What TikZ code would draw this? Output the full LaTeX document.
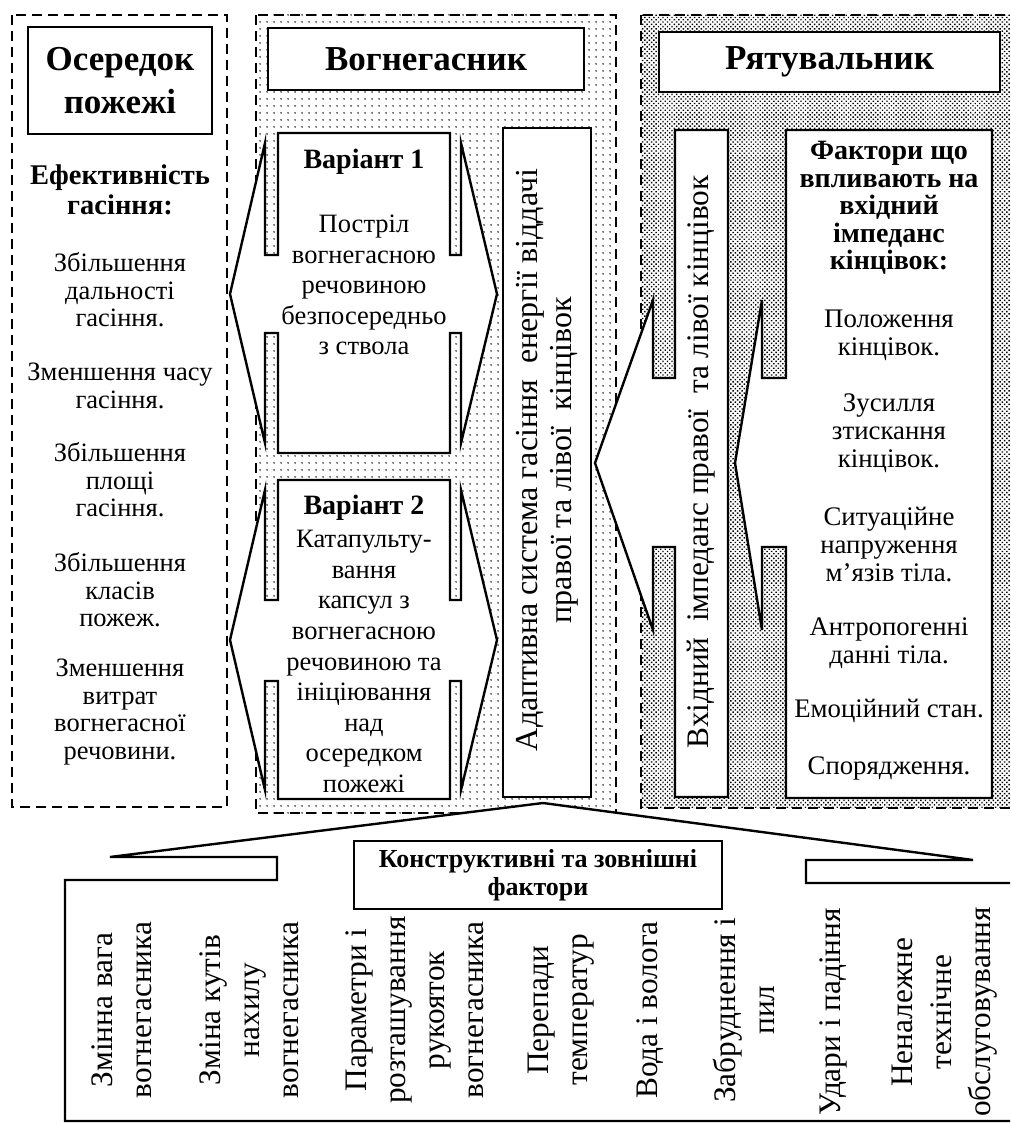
\documentclass[tikz,border=0pt]{standalone}
\usepackage{fontspec}
\setmainfont{Liberation Serif}
\usetikzlibrary{patterns.meta}
\begin{document}
\begin{tikzpicture}[x=1pt,y=-1pt,
  panel/.style={line width=2.6pt, dash pattern=on 10pt off 6pt},
  box/.style={draw, line width=2.8pt, fill=white},
  barrow/.style={draw, line width=2.4pt, fill=white, line join=miter},
  head/.style={font=\fontsize{35}{43}\selectfont\bfseries, align=center, inner sep=0pt},
  sub/.style={font=\fontsize{28.5}{29.5}\selectfont\bfseries, align=center, inner sep=0pt},
  body/.style={font=\fontsize{26.5}{27.5}\selectfont, align=center, inner sep=0pt},
  rbody/.style={font=\fontsize{26.8}{28}\selectfont, align=center, inner sep=0pt},
  vbody/.style={font=\fontsize{26.5}{30.6}\selectfont, align=center, inner sep=0pt},
  side/.style={font=\fontsize{32}{34}\selectfont, align=center, inner sep=0pt, rotate=90},
  foot/.style={font=\fontsize{31.3}{39}\selectfont, align=center, inner sep=0pt, rotate=90},
]
\useasboundingbox (0,0) rectangle (1010,1124);
\fill[white] (0,0) rectangle (1010,1124);
\clip (0,0) rectangle (1010,1124);

% ---- three dashed panels ----
\draw[panel] (12,15) rectangle (227,807);
\path[pattern={Dots[distance=6.5pt,radius=0.85pt]}, pattern color=black] (256,15) rectangle (616,813);
\draw[panel] (256,15) rectangle (616,813);
\path[pattern={Dots[distance=3.2pt,radius=1pt,angle=45]}, pattern color=black] (641,15) rectangle (1030,808);
\draw[panel] (641,15) rectangle (1030,808);

% ---- left panel ----
\node[box, head, minimum width=184pt, minimum height=107pt] (fire) at (120,80.5) {Осередок\\пожежі};
\node[sub] (eff) at (120,190) {Ефективність\\гасіння:};
\node[body] (e1) at (120,290) {Збільшення\\дальності\\гасіння.};
\node[body] (e2) at (120,386) {Зменшення часу\\гасіння.};
\node[body] (e3) at (120,480) {Збільшення\\площі\\гасіння.};
\node[body] (e4) at (120,590) {Збільшення\\класів\\пожеж.};
\node[body] (e5) at (120,712) {Зменшення\\витрат\\вогнегасної\\речовини.};

% ---- middle panel: variants with two-way block arrows ----
\draw[barrow] (278,133) -- (450,133) -- (450,255) -- (461,255) -- (461,143) -- (497,294)
  -- (461,443) -- (461,333) -- (450,333) -- (450,453) -- (278,453) -- (278,333)
  -- (265,333) -- (265,443) -- (230,294) -- (265,143) -- (265,255) -- (278,255) -- cycle;
\draw[barrow] (278,480) -- (450,480) -- (450,600) -- (461,600) -- (461,490) -- (497,640)
  -- (461,790) -- (461,681) -- (450,681) -- (450,799) -- (278,799) -- (278,681)
  -- (265,681) -- (265,790) -- (230,640) -- (265,490) -- (265,600) -- (278,600) -- cycle;

\node[box, head, minimum width=316pt, minimum height=62pt] (ext) at (426,59) {Вогнегасник};
\draw[box] (503,128) rectangle (591,797);
\node[side] (adapt) at (547,460) {Адаптивна система гасіння\ \ енергії віддачі\\правої та лівої\ \ кінцівок};

\node[sub, font=\fontsize{28}{30}\selectfont\bfseries] (v1) at (364,162) {Варіант 1};
\node[vbody] (v1t) at (364,285) {Постріл\\вогнегасною\\речовиною\\безпосередньо\\з ствола};
\node[sub, font=\fontsize{28}{30}\selectfont\bfseries] (v2) at (364,508) {Варіант 2};
\node[vbody] (v2t) at (364,661.5) {Катапульту-\\вання\\капсул з\\вогнегасною\\речовиною та\\ініціювання\\над\\осередком\\пожежі};

% ---- right panel: boxes with left block arrows ----
\draw[barrow] (675,130) -- (728,130) -- (728,797) -- (675,797) -- (675,547) -- (653,547)
  -- (653,630) -- (595,463) -- (653,300) -- (653,378) -- (675,378) -- cycle;
\draw[barrow] (786,130) -- (992,130) -- (992,798) -- (786,798) -- (786,547) -- (762,547)
  -- (762,630) -- (735,463) -- (762,300) -- (762,378) -- (786,378) -- cycle;

\node[box, head, minimum width=341pt, minimum height=60pt] (resc) at (829.5,62) {Рятувальник};
\node[side, font=\fontsize{31.3}{34}\selectfont] (imp) at (701,462) {Вхідний\ \ імпеданс правої\ \ та лівої кінцівок};
\node[sub, font=\fontsize{28}{27.5}\selectfont\bfseries] (fac) at (889,208) {Фактори що\\впливають на\\вхідний\\імпеданс\\кінцівок:};
\node[rbody] (f1) at (889,335) {Положення\\кінцівок.};
\node[rbody] (f2) at (889,433) {Зусилля\\зтискання\\кінцівок.};
\node[rbody] (f3) at (889,545) {Ситуаційне\\напруження\\м’язів тіла.};
\node[rbody] (f4) at (889,643) {Антропогенні\\данні тіла.};
\node[rbody] (f5) at (889,711) {Емоційний стан.};
\node[rbody] (f6) at (889,768) {Спорядження.};

% ---- bottom callout ----
\draw[barrow] (65,1121) -- (65,880) -- (277,880) -- (277,857) -- (110,857) -- (543,803)
  -- (973,860) -- (806,860) -- (806,883) -- (1030,883) -- (1030,1121) -- cycle;
\node[box, font=\fontsize{26}{28}\selectfont\bfseries, align=center, inner sep=0pt,
  minimum width=368pt, minimum height=68pt] (cons) at (538,875) {Конструктивні та зовнішні\\фактори};

\node[foot] (b1) at (122,1010) {Змінна вага\\вогнегасника};
\node[foot] (b2) at (249,1010) {Зміна кутів\\нахилу\\вогнегасника};
\node[foot] (b3) at (414.5,1010) {Параметри і\\розташування\\рукояток\\вогнегасника};
\node[foot] (b4) at (561,1010) {Перепади\\температур};
\node[foot] (b5) at (650,1010) {Вода і волога};
\node[foot] (b6) at (744,1010) {Забруднення і\\пил};
\node[foot] (b7) at (833,1012) {Удари і падіння};
\node[foot] (b8) at (944.5,1012) {Неналежне\\технічне\\обслуговування};
\end{tikzpicture}
\end{document}
